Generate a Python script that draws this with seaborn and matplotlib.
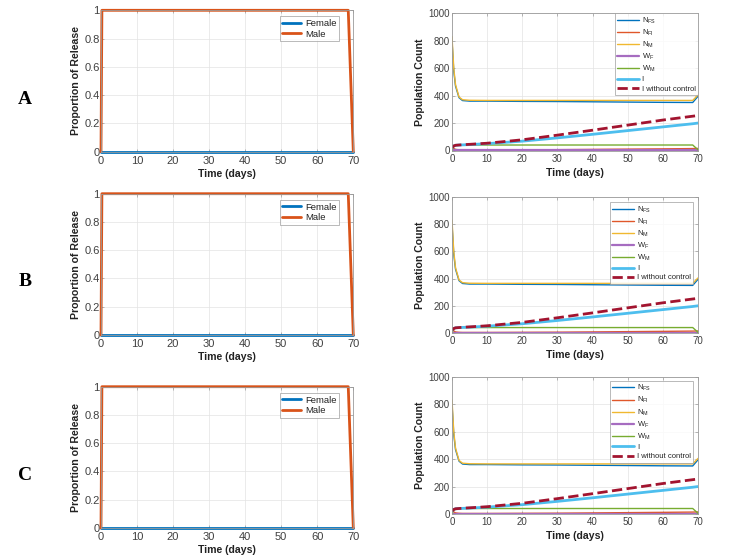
import numpy as np
import pandas as pd
import matplotlib
matplotlib.use("Agg")
import matplotlib.pyplot as plt
import seaborn as sns

# ---------------- data ----------------
row_letters = ["A", "B", "C"]

# release proportions
t_release = [0, 0.25, 68.6, 70]
female_release = [0, 0, 0, 0]
male_release = [0, 1, 1, 0]

# population dynamics
t_pop = [0, 0.5, 1, 2, 3, 5, 10, 20, 30, 40, 50, 60, 68.5, 70]
N_FS = [800, 580, 470, 385, 364, 360, 360, 358, 357, 355, 353, 351, 350, 395]
N_FI = [40, 15, 8, 5, 4, 4, 4, 5, 6, 8, 10, 12, 14, 15]
N_M = [830, 600, 480, 390, 370, 366, 365, 365, 365, 365, 365, 365, 365, 405]
W_F = [2, 2, 2, 2, 2, 2, 2, 2, 2, 2, 2, 2, 2, 2]
W_M = [0, 30, 38, 40, 40, 40, 40, 40, 40, 40, 40, 40, 40, 5]
I_ctrl = [20, 33, 38, 40, 41, 43, 50, 68, 92, 118, 145, 172, 195, 200]
I_noctrl = [20, 33, 38, 40, 42, 45, 53, 78, 112, 148, 185, 222, 250, 255]

pop_labels = [r"N$_{FS}$", r"N$_{FI}$", r"N$_{M}$", r"W$_{F}$", r"W$_{M}$", "I", "I without control"]
release_labels = ["Female", "Male"]
x_ticks = [0, 10, 20, 30, 40, 50, 60, 70]
left_yticks = [0, 0.2, 0.4, 0.6, 0.8, 1]
left_yticklabels = ["0", "0.2", "0.4", "0.6", "0.8", "1"]
right_yticks = [0, 200, 400, 600, 800, 1000]

# ---------------- style ----------------
sns.set_theme(style="white")
plt.rcParams["font.family"] = ["Liberation Sans", "DejaVu Sans"]
plt.rcParams["mathtext.fontset"] = "custom"
plt.rcParams["mathtext.rm"] = "Liberation Sans"
plt.rcParams["mathtext.it"] = "Liberation Sans"
plt.rcParams["mathtext.default"] = "regular"

TICK_C = "#404040"
SPINE_C = "#9a9a9a"
GRID_C = "#e3e3e3"

fig = plt.figure(figsize=(7.38, 5.6), dpi=100)
fig.patch.set_facecolor("white")

W, H = 738.0, 560.0

def ax_from_px(x0, x1, y0, y1):
    return fig.add_axes([x0 / W, 1 - y1 / H, (x1 - x0) / W, (y1 - y0) / H])

left_rows = [(10.3, 151.7), (193.7, 335.0), (386.7, 528.0)]
right_rows = [(13.3, 150.5), (197.0, 333.0), (376.7, 514.0)]
letter_y = [99, 282, 476]
right_leg_anchor = [(1.0, 1.0), (0.98, 0.963), (0.98, 0.97)]


def style_axes(ax, labelsize, xpad, ypad, xlab_y, ylab_x, ylabel):
    for s in ax.spines.values():
        s.set_visible(True)
        s.set_color(SPINE_C)
        s.set_linewidth(0.6)
    ax.grid(True, color=GRID_C, linewidth=0.5)
    ax.set_axisbelow(True)
    ax.tick_params(axis="both", which="both", direction="in", length=2.5,
                   width=0.5, colors=SPINE_C, labelcolor=TICK_C, labelsize=labelsize,
                   top=True, right=True, bottom=True, left=True,
                   labeltop=False, labelright=False)
    ax.tick_params(axis="x", pad=xpad)
    ax.tick_params(axis="y", pad=ypad)
    ax.set_xlim(0, 70)
    ax.set_xticks(x_ticks)
    ax.set_xlabel("Time (days)", fontsize=7.6, fontweight="bold", color="#222222")
    ax.set_ylabel(ylabel, fontsize=7.6, fontweight="bold", color="#222222")
    ax.xaxis.set_label_coords(0.5, xlab_y)
    ax.yaxis.set_label_coords(ylab_x, 0.5)


for r in range(3):
    # ---- left: proportion of release ----
    axL = ax_from_px(101.0, 353.3, *left_rows[r])
    sns.lineplot(x=t_release, y=female_release, ax=axL, color="#0072BD",
                 linewidth=2.0, label=release_labels[0], estimator=None, sort=False)
    sns.lineplot(x=t_release, y=male_release, ax=axL, color="#D95319",
                 linewidth=2.0, label=release_labels[1], estimator=None, sort=False)
    style_axes(axL, 8.0, 3.0, 1.0, -0.12, -0.079, "Proportion of Release")
    axL.set_ylim(0, 1)
    axL.set_yticks(left_yticks)
    axL.set_yticklabels(left_yticklabels)
    for ln in axL.get_lines():
        ln.set_clip_on(False)
    leg = axL.legend(loc="upper right", bbox_to_anchor=(0.945, 0.957), fontsize=6.8,
                     frameon=True, fancybox=False, edgecolor=SPINE_C,
                     handlelength=2.0, handletextpad=0.4, borderpad=0.3,
                     labelspacing=0.15, borderaxespad=0)
    leg.get_frame().set_linewidth(0.6)
    for txt in leg.get_texts():
        txt.set_color("#222222")

    # ---- right: population count ----
    axR = ax_from_px(452.0, 698.0, *right_rows[r])
    series = [
        (N_FS, "#0072BD", 1.0, "-"),
        (N_FI, "#E0572A", 1.0, "-"),
        (N_M, "#F0B830", 1.0, "-"),
        (W_F, "#A66CC0", 1.6, "-"),
        (W_M, "#77AC30", 1.0, "-"),
        (I_ctrl, "#4DBEEE", 2.0, "-"),
        (I_noctrl, "#A2142F", 2.0, "--"),
    ]
    for (vals, col, lw, ls), lab in zip(series, pop_labels):
        sns.lineplot(x=t_pop, y=vals, ax=axR, color=col, linewidth=lw,
                     label=lab, estimator=None, sort=False)
        axR.get_lines()[-1].set_linestyle(ls)
    style_axes(axR, 7.0, 2.5, 1.5, -0.124, -0.11, "Population Count")
    axR.set_ylim(0, 1000)
    axR.set_yticks(right_yticks)
    leg = axR.legend(loc="upper right", bbox_to_anchor=right_leg_anchor[r], fontsize=5.5,
                     frameon=True, fancybox=False, edgecolor=SPINE_C,
                     handlelength=2.8, handletextpad=0.4, borderpad=0.3,
                     labelspacing=0.25, borderaxespad=0)
    leg.get_frame().set_linewidth(0.6)
    for txt in leg.get_texts():
        txt.set_color("#222222")

    fig.text(25 / W, 1 - letter_y[r] / H, row_letters[r], fontsize=14,
             fontweight="bold", family=["Liberation Serif", "DejaVu Serif"],
             ha="center", va="center", color="black")

fig.savefig("out.png", dpi=100, facecolor="white")
